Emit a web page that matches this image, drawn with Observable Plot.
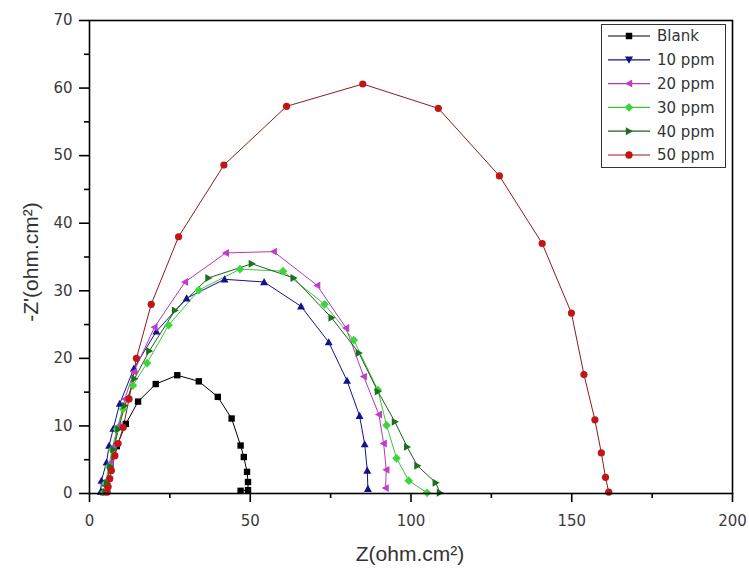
<!DOCTYPE html>
<html><head><meta charset="utf-8">
<script src="https://cdn.jsdelivr.net/npm/d3@7"></script>
<script src="https://cdn.jsdelivr.net/npm/@observablehq/plot@0.6"></script>
<style>
body{margin:0;background:#fff;}
#wrap{position:relative;width:749px;height:572px;font-family:"Liberation Sans",Arial,sans-serif;}
#legend{position:absolute;left:601px;top:24px;width:125px;height:144px;border:1px solid #333;background:#fff;box-sizing:border-box;}
</style></head><body><div id="wrap"><div id="legend"></div></div>
<script>
// ---- data ----
const series = ["Blank", "10 ppm", "20 ppm", "30 ppm", "40 ppm", "50 ppm"];
const markerColors = ["#000000", "#12128c", "#c23ccc", "#3cd63c", "#1f6e1f", "#c01616"];
const lineColors = ["#000000", "#12128c", "#b03ab8", "#3cc43c", "#1f5e1f", "#8e1a1a"];

const blankX = [4.3, 5, 6.5, 8.5, 11.3, 15.1, 20.6, 27.3, 34, 39.9, 44.2, 47, 48, 49, 49.3, 49.3, 47];
const blankY = [0.2, 1.5, 4, 7, 10.3, 13.6, 16.2, 17.5, 16.6, 14.3, 11.1, 7.1, 5.4, 3.2, 1.7, 0.5, 0.4];

const p10X = [3.5, 3.7, 5.3, 6.1, 7.4, 9.4, 13.8, 20.8, 30.2, 42, 54.3, 65.8, 74.4, 80.1, 84, 85.6, 86.4, 86.6];
const p10Y = [0.3, 1.9, 4.6, 7.1, 9.6, 13.3, 18.5, 24, 28.9, 31.7, 31.3, 27.7, 22.4, 16.7, 11.5, 7.3, 3.4, 0.7];

const p20X = [5, 5.5, 6.5, 7.5, 9, 11, 13.8, 20.2, 29.7, 42.4, 57.3, 70.8, 79.8, 85.3, 90, 91.5, 92.3, 92.1];
const p20Y = [0.3, 2, 4.5, 7, 10, 14, 18, 24.6, 31.3, 35.6, 35.8, 30.8, 24.5, 17.3, 11.7, 7.4, 3.5, 0.8];

const p30X = [4.5, 5, 6, 7, 8.5, 10.5, 13.5, 17.9, 24.6, 34, 46.8, 60.2, 73.1, 82.2, 89.7, 92.4, 95.5, 99.3, 105];
const p30Y = [0.2, 1.5, 4, 6.5, 9.5, 12.5, 16, 19.3, 24.9, 30.1, 33.2, 32.9, 28, 22.7, 15.3, 10.1, 5.2, 1.9, 0.1];

const p40X = [5, 5.5, 6.5, 7.5, 9, 11, 14, 18.6, 26.6, 37, 50.5, 63.5, 75.3, 83.8, 89.7, 95, 98.8, 102, 107.7, 109];
const p40Y = [0.2, 1.5, 4, 6.5, 9.5, 13, 17, 21.1, 27.1, 31.9, 34, 31.9, 26, 20.8, 15.1, 10.6, 6.9, 4.1, 1.6, 0.1];

const p50X = [5.5, 5.8, 6.3, 6.8, 7.9, 8.9, 10.5, 12.3, 14.6, 19.2, 27.7, 41.8, 61.3, 85, 108.5, 127.5, 140.8, 149.9, 153.8, 157.2, 159.2, 160.5, 161.5];
const p50Y = [0.2, 1, 2.2, 3.4, 5.6, 7.4, 9.8, 14, 20, 28, 38, 48.6, 57.3, 60.6, 57, 47, 37, 26.7, 17.6, 10.9, 6, 2.4, 0.2];

const xTicks = [0, 50, 100, 150, 200];
const xMinor = [25, 75, 125, 175];
const yTicks = [0, 10, 20, 30, 40, 50, 60, 70];
const yMinor = [5, 15, 25, 35, 45, 55, 65];

// ---- build table ----
const xs = [blankX, p10X, p20X, p30X, p40X, p50X];
const ys = [blankY, p10Y, p20Y, p30Y, p40Y, p50Y];
const data = [];
series.forEach((s, i) => xs[i].forEach((x, j) => data.push({s, x, y: ys[i][j]})));

// custom symbols
const sq = {draw(c, size){const s = Math.sqrt(size) * 0.5; c.rect(-s, -s, 2*s, 2*s);}};
const triUp = {draw(c, size){const s = Math.sqrt(size) * 0.62; c.moveTo(0, -s); c.lineTo(s, s*0.8); c.lineTo(-s, s*0.8); c.closePath();}};
const triDown = {draw(c, size){const s = Math.sqrt(size) * 0.62; c.moveTo(0, s); c.lineTo(s, -s*0.8); c.lineTo(-s, -s*0.8); c.closePath();}};
const triLeft = {draw(c, size){const s = Math.sqrt(size) * 0.62; c.moveTo(-s, 0); c.lineTo(s*0.8, -s); c.lineTo(s*0.8, s); c.closePath();}};
const triRight = {draw(c, size){const s = Math.sqrt(size) * 0.62; c.moveTo(s, 0); c.lineTo(-s*0.8, -s); c.lineTo(-s*0.8, s); c.closePath();}};
const diam = {draw(c, size){const s = Math.sqrt(size) * 0.68; c.moveTo(0, -s); c.lineTo(s, 0); c.lineTo(0, s); c.lineTo(-s, 0); c.closePath();}};
const circ = {draw(c, size){const r = Math.sqrt(size / Math.PI); c.moveTo(r, 0); c.arc(0, 0, r, 0, 2*Math.PI);}};
const plotSymbols = [sq, triUp, triLeft, diam, triRight, circ];
const legendSymbols = [sq, triDown, triLeft, diam, triRight, circ];

const marks = [];
series.forEach((s, i) => {
  marks.push(Plot.line(data.filter(d => d.s === s), {x: "x", y: "y", stroke: lineColors[i], strokeWidth: 1}));
});
marks.push(Plot.dot(data, {x: "x", y: "y", symbol: "s", fill: "s", r: 3.6, stroke: "none"}));
marks.push(Plot.frame({stroke: "#000", strokeWidth: 1.6}));
marks.push(Plot.axisX(xTicks, {tickSize: 9, tickPadding: 13, fontSize: 15, fontFamily: "DejaVu Sans", fill: "#3a3a3a", stroke: "#000", strokeWidth: 1.6, label: null}));
marks.push(Plot.axisX(xMinor, {tickSize: 5, tickFormat: () => "", stroke: "#000", strokeWidth: 1.6, label: null}));
marks.push(Plot.axisY(yTicks, {tickSize: 10, tickPadding: 7, fontSize: 15, fontFamily: "DejaVu Sans", fill: "#3a3a3a", stroke: "#000", strokeWidth: 1.6, label: null}));
marks.push(Plot.axisY(yMinor, {tickSize: 5, tickFormat: () => "", stroke: "#000", strokeWidth: 1.6, label: null}));

const chart = Plot.plot({
  width: 749, height: 572,
  marginLeft: 89, marginRight: 17, marginTop: 20, marginBottom: 79,
  x: {domain: [0, 200]},
  y: {domain: [0, 70]},
  color: {domain: series, range: markerColors},
  symbol: {domain: series, range: plotSymbols},
  style: {fontFamily: "Liberation Sans, Arial, sans-serif", background: "#fff"},
  marks
});
document.getElementById("wrap").prepend(chart);

const svg = d3.select(chart);
svg.append("text").attr("x", 410).attr("y", 561).attr("text-anchor", "middle")
  .attr("font-size", 21).attr("fill", "#333").attr("font-family", "Liberation Sans, Arial, sans-serif")
  .text("Z(ohm.cm²)");
svg.append("text").attr("transform", "translate(38,262) rotate(-90)").attr("text-anchor", "middle")
  .attr("font-size", 21).attr("fill", "#333").attr("font-family", "Liberation Sans, Arial, sans-serif")
  .text("-Z'(ohm.cm²)");

// legend
const lg = d3.select("#legend").append("svg").attr("width", 123).attr("height", 142);
series.forEach((s, i) => {
  const y = 11 + i * 23.8;
  lg.append("line").attr("x1", 6).attr("x2", 48).attr("y1", y).attr("y2", y).attr("stroke", lineColors[i]).attr("stroke-width", 1.2);
  lg.append("path").attr("transform", `translate(27,${y})`).attr("d", d3.symbol(legendSymbols[i], 42)()).attr("fill", markerColors[i]);
  lg.append("text").attr("x", 55).attr("y", y).attr("dy", "0.36em").attr("font-size", 15)
    .attr("font-family", "DejaVu Sans").attr("fill", "#333").text(s);
});
</script>
</body></html>
